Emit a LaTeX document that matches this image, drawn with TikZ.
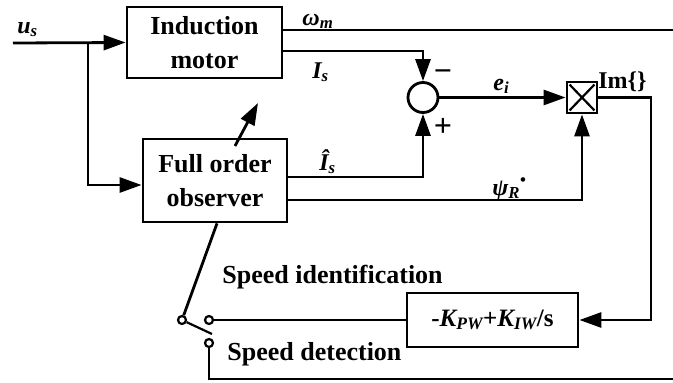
\documentclass[tikz,border=0pt]{standalone}
\usepackage{fontspec}
\setmainfont{Liberation Serif}
\usetikzlibrary{arrows.meta}
\begin{document}
\begin{tikzpicture}[x=1pt,y=-1pt,
  line width=2.8pt,
  arr/.style={-{Triangle[length=22pt,width=15pt]}},
  blk/.style={draw, inner sep=0pt, align=center, font=\fontsize{26}{34}\selectfont\bfseries},
  lbl/.style={inner sep=0pt, anchor=base west, font=\fontsize{24}{28}\selectfont\bfseries},
  txt/.style={inner sep=0pt, anchor=base west, font=\fontsize{26}{30}\selectfont\bfseries},
  sgn/.style={inner sep=0pt, font=\fontsize{32}{34}\selectfont\bfseries},
  cont/.style={circle, draw, fill=white, minimum size=8pt, inner sep=0pt, line width=2.2pt}]
\useasboundingbox (0,0) rectangle (673,383);
% blocks
\node[blk, minimum width=155pt, minimum height=71pt] (im) at (204.5,42.5) {Induction\\motor};
\node[blk, minimum width=144pt, minimum height=83pt] (obs) at (215,180.5) {Full order\\observer};
\node[circle, draw, minimum size=30pt, inner sep=0pt] (sum) at (423,97.5) {};
\node[draw, minimum width=30pt, minimum height=31pt, inner sep=0pt] (mul) at (582,97.5) {};
\draw[line width=2.2pt] ([shift={(4,4)}]mul.north west) -- ([shift={(-4,-4)}]mul.south east);
\draw[line width=2.2pt] ([shift={(-4,4)}]mul.north east) -- ([shift={(4,-4)}]mul.south west);
\node[blk, minimum width=171pt, minimum height=54pt, font=\fontsize{25}{28}\selectfont\bfseries] (K) at (492.5,320)
  {-\textit{K\textsubscript{PW}}+\textit{K\textsubscript{IW}}/s};
% switch contacts
\node[cont] (piv) at (182,320) {};
\node[cont] (c1) at (209,320) {};
\node[cont] (c2) at (209,343) {};
% coordinates
\coordinate (in) at (13,43);
\coordinate (j) at (88,43);
\coordinate (wend) at (673,30);
\coordinate (bend) at (673,379);
\coordinate (oa) at (235,146);
\coordinate (ob) at (258,103);
\coordinate (bl) at (212,334);
% connectors
\draw[arr] (in) -- (im.west);
\draw[arr] (j) |- (obs.west |- 0,185);
\draw (im.east |- 0,30) -- (wend);
\draw[arr] (im.east |- 0,51) -| (sum.north);
\draw[arr] (obs.east |- 0,177) -| (sum.south);
\draw[arr] (obs.east |- 0,200) -| (mul.south);
\draw[arr] (sum.east) -- (mul.west);
\draw[arr] (mul.east) -| (K.east -| 651,0) -- (K.east);
\draw[arr] (oa) -- (ob);
\draw (c1) -- (K.west);
\draw ([xshift=2pt]obs.south) -- (piv);
\draw[line width=2.2pt] (piv) -- (bl);
\draw (c2) |- (bend);
% labels
\node[lbl] (lus) at (16,33) {\textit{u\textsubscript{s}}};
\node[lbl] (lw) at (301,25) {\textit{ω\textsubscript{m}}};
\node[lbl] (lis) at (311,78) {\textit{I\textsubscript{s}}};
\node[lbl] (le) at (492,90) {\textit{e\textsubscript{i}}};
\node[lbl] (lim) at (597,88) {Im\{\}};
\node[lbl] (lih) at (318,170) {\textit{\^{I}\textsubscript{s}}};
\node[lbl] (lpsi) at (491,195) {\textit{ψ\textsubscript{R}}\textsuperscript{•}};
\node[sgn] (lm) at (443,76) {−};
\node[sgn] (lp) at (443,127) {+};
\node[txt] (lsi) at (221,283) {Speed identification};
\node[txt] (lsd) at (226,360) {Speed detection};
\end{tikzpicture}
\end{document}
